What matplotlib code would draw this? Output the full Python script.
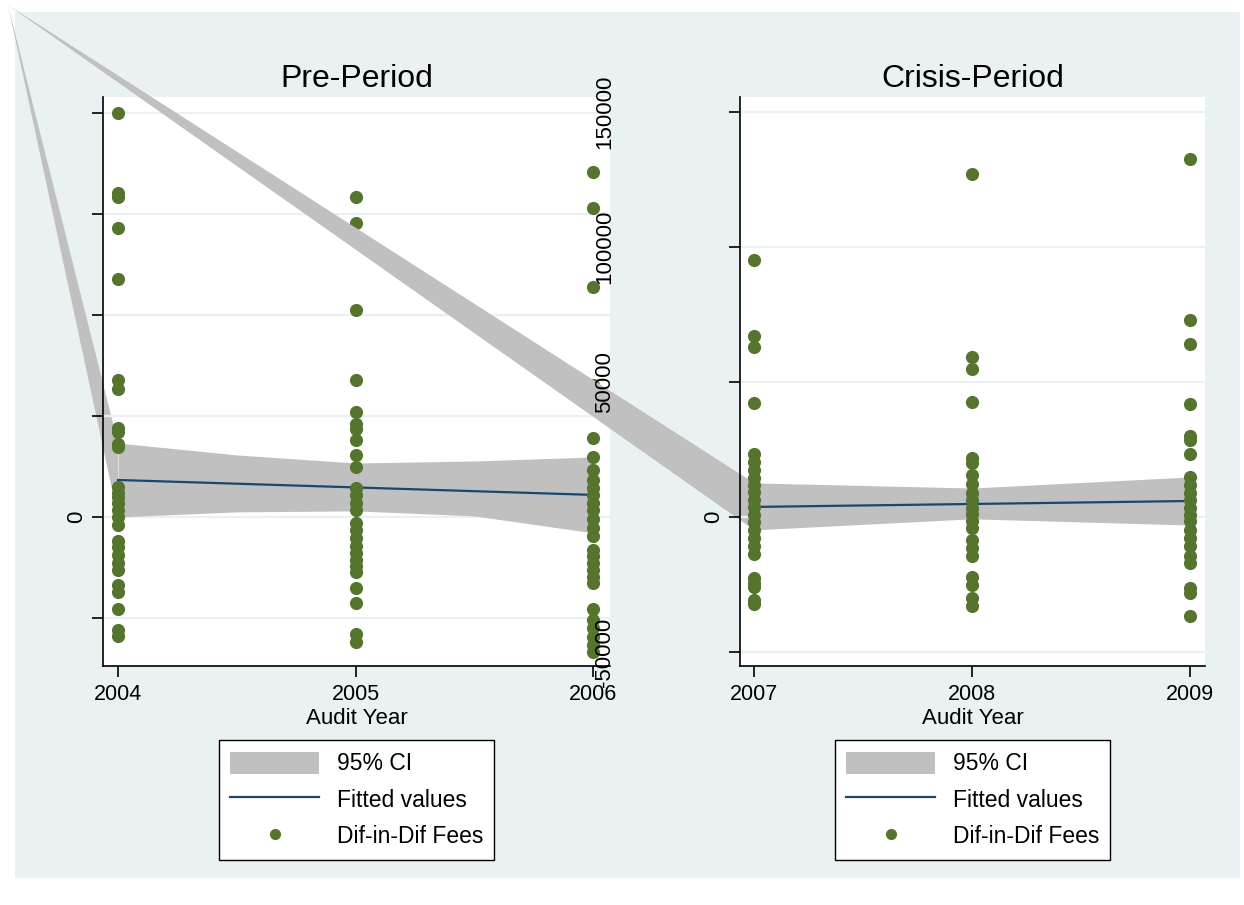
import numpy as np
import matplotlib
matplotlib.use('Agg')
import matplotlib.pyplot as plt
from matplotlib.patches import Rectangle, Polygon, Patch
from matplotlib.lines import Line2D

plt.rcParams['font.family'] = ['Liberation Sans', 'DejaVu Sans']

# --- data ---
pre_2004 = [200000, 160400, 158500, 143000, 117800, 67800, 63400, 44000, 42000, 36000, 34600,
            14850, 11900, 9900, 6900, 3500, 0, -4000, -11900, -14900, -18800, -22800, -26200,
            -33700, -37100, -45500, -56000, -58900]
pre_2005 = [158400, 145500, 102500, 67800, 52000, 46000, 43600, 38100, 30700, 24800, 14400,
            10900, 6900, 3500, -3000, -6400, -10400, -14400, -17800, -21300, -24300, -27200,
            -35100, -42600, -57900, -61900]
pre_2006 = [170800, 153000, 113900, 65300, 39100, 29700, 23300, 18300, 14400, 10900, 6900,
            3500, -1000, -5400, -9400, -16300, -19300, -22800, -26200, -29700, -32700, -45500,
            -51000, -54900, -59400, -63400, -66800]
cri_2007 = [95200, 67000, 63000, 42200, 23300, 20400, 17400, 14400, 11900, 9300, 6300, 3700,
            700, -1900, -4800, -7800, -10700, -13700, -22600, -24400, -25900, -30700, -32200]
cri_2008 = [127000, 59300, 54800, 42600, 21900, 20000, 15600, 12200, 8900, 6300, 3300, 1100,
            -1500, -4100, -8500, -11500, -14400, -22200, -25200, -30000, -33000]
cri_2009 = [132600, 73000, 64100, 41900, 30000, 28500, 23300, 14800, 11900, 8900, 6300, 3300,
            700, -1500, -4800, -7800, -10700, -14400, -17000, -26300, -28200, -36700]

pre_fit_x = [2004, 2006]
pre_fit_y = [18300, 10900]
pre_ci_x = [2004, 2004.5, 2005, 2005.5, 2006]
pre_ci_hi = [36600, 30700, 26700, 27700, 29700]
pre_ci_lo = [0, 2500, 3000, 500, -7900]

cri_fit_x = [2007, 2009]
cri_fit_y = [3700, 5900]
cri_ci_x = [2007, 2008, 2009]
cri_ci_hi = [12600, 10700, 14800]
cri_ci_lo = [-4800, -700, -3000]

pre_years = [2004, 2005, 2006]
cri_years = [2007, 2008, 2009]

# --- style ---
W, H = 1244, 905
BG = '#EAF1F3'
GREEN = '#55752F'
NAVY = '#1A476F'
GRAY = '#C0C0C0'

fig = plt.figure(figsize=(W / 100, H / 100), dpi=100)
fig.patch.set_facecolor('white')
fig.add_artist(Rectangle((15 / W, 1 - 878 / H), (1240 - 15) / W, (878 - 12) / H,
                         transform=fig.transFigure, facecolor=BG, edgecolor='none', zorder=-10))

ax1 = fig.add_axes([103 / W, 1 - 666 / H, (610 - 103) / W, (666 - 97) / H])
ax2 = fig.add_axes([740 / W, 1 - 666 / H, (1205 - 740) / W, (666 - 97) / H])


def style(ax, years, yticks, xlim, ylim, title):
    ax.set_facecolor('white')
    ax.set_xlim(*xlim)
    ax.set_ylim(*ylim)
    ax.set_xticks(years)
    ax.set_xticklabels([str(y) for y in years], fontsize=15.5)
    ax.set_yticks(yticks)
    for s in ['top', 'right']:
        ax.spines[s].set_visible(False)
    for s in ['left', 'bottom']:
        ax.spines[s].set_color('black')
        ax.spines[s].set_linewidth(1.2)
    ax.tick_params(axis='both', length=8, width=1.2, color='black')
    ax.tick_params(axis='x', pad=5)
    ax.grid(axis='y', color=BG, lw=1.6, zorder=0)
    ax.set_axisbelow(True)
    ax.set_xlabel('Audit Year', fontsize=16, labelpad=2)
    ax.set_title(title, fontsize=23, pad=7)


style(ax1, pre_years, [-50000, 0, 50000, 100000, 150000, 200000],
      (2003.937, 2006.07), (-73800, 207900), 'Pre-Period')
style(ax2, cri_years, [-50000, 0, 50000, 100000, 150000],
      (2006.936, 2009.069), (-55200, 155500), 'Crisis-Period')

ax1.set_yticklabels(['', '0', '', '', '', ''], rotation=90, va='center', fontsize=16)
ax2.set_yticklabels(['-50000', '0', '50000', '100000', '150000'], rotation=90, va='center', fontsize=16)
for t in ax1.yaxis.get_major_ticks():
    t.set_pad(3.5)
for t, v in zip(ax2.yaxis.get_major_ticks(), ax2.get_yticks()):
    t.set_pad(3.5 if v == 0 else 82)

# CI bands, fits and points
ax1.fill_between(pre_ci_x, pre_ci_lo, pre_ci_hi, color=GRAY, lw=0, zorder=1)
ax1.plot(pre_fit_x, pre_fit_y, color=NAVY, lw=1.6, zorder=2)
for yr, vals in zip(pre_years, [pre_2004, pre_2005, pre_2006]):
    ax1.scatter([yr] * len(vals), vals, s=90, color=GREEN, lw=0, zorder=3)

ax2.fill_between(cri_ci_x, cri_ci_lo, cri_ci_hi, color=GRAY, lw=0, zorder=1)
ax2.plot(cri_fit_x, cri_fit_y, color=NAVY, lw=1.6, zorder=2)
for yr, vals in zip(cri_years, [cri_2007, cri_2008, cri_2009]):
    ax2.scatter([yr] * len(vals), vals, s=90, color=GREEN, lw=0, zorder=3)

# the stray CI wedges running to the top-left corner
corner = (8 / W, 1 - 5 / H)
to_fig = fig.transFigure.inverted()
a_pts = to_fig.transform(ax1.transData.transform([(pre_ci_x[0], pre_ci_hi[0]), (pre_ci_x[0], pre_ci_lo[0])]))
b_pts = to_fig.transform(ax2.transData.transform([(cri_ci_x[0], cri_ci_hi[0]), (cri_ci_x[0], cri_ci_lo[0])]))
wedge_a = Polygon([corner, *a_pts], closed=True, transform=fig.transFigure,
                  facecolor=GRAY, edgecolor='none', clip_on=False, zorder=0.4)
wedge_b = Polygon([corner, *b_pts], closed=True, transform=fig.transFigure,
                  facecolor=GRAY, edgecolor='none', clip_on=False, zorder=0.4)
ax1.add_artist(wedge_a)
ax2.add_artist(wedge_b)

# legends
handles = [Patch(facecolor=GRAY, edgecolor='none'),
           Line2D([], [], color=NAVY, lw=1.6),
           Line2D([], [], color=GREEN, marker='o', ls='none', markersize=7)]
labels = ['95% CI', 'Fitted values', 'Dif-in-Dif Fees']
for ax, cx in [(ax1, (216 + 497) / 2), (ax2, (832 + 1113) / 2)]:
    leg = ax.legend(handles, labels, loc='center', bbox_to_anchor=(cx / W, 1 - 800 / H),
                    bbox_transform=fig.transFigure, fontsize=16.5, frameon=True, fancybox=False,
                    handlelength=3.9, handleheight=1.1, handletextpad=0.75, labelspacing=0.55,
                    borderpad=0.5, borderaxespad=0)
    fr = leg.get_frame()
    fr.set_edgecolor('black')
    fr.set_linewidth(1.0)
    fr.set_facecolor('white')
    fr.set_alpha(1)

fig.savefig('out.png', dpi=100)
